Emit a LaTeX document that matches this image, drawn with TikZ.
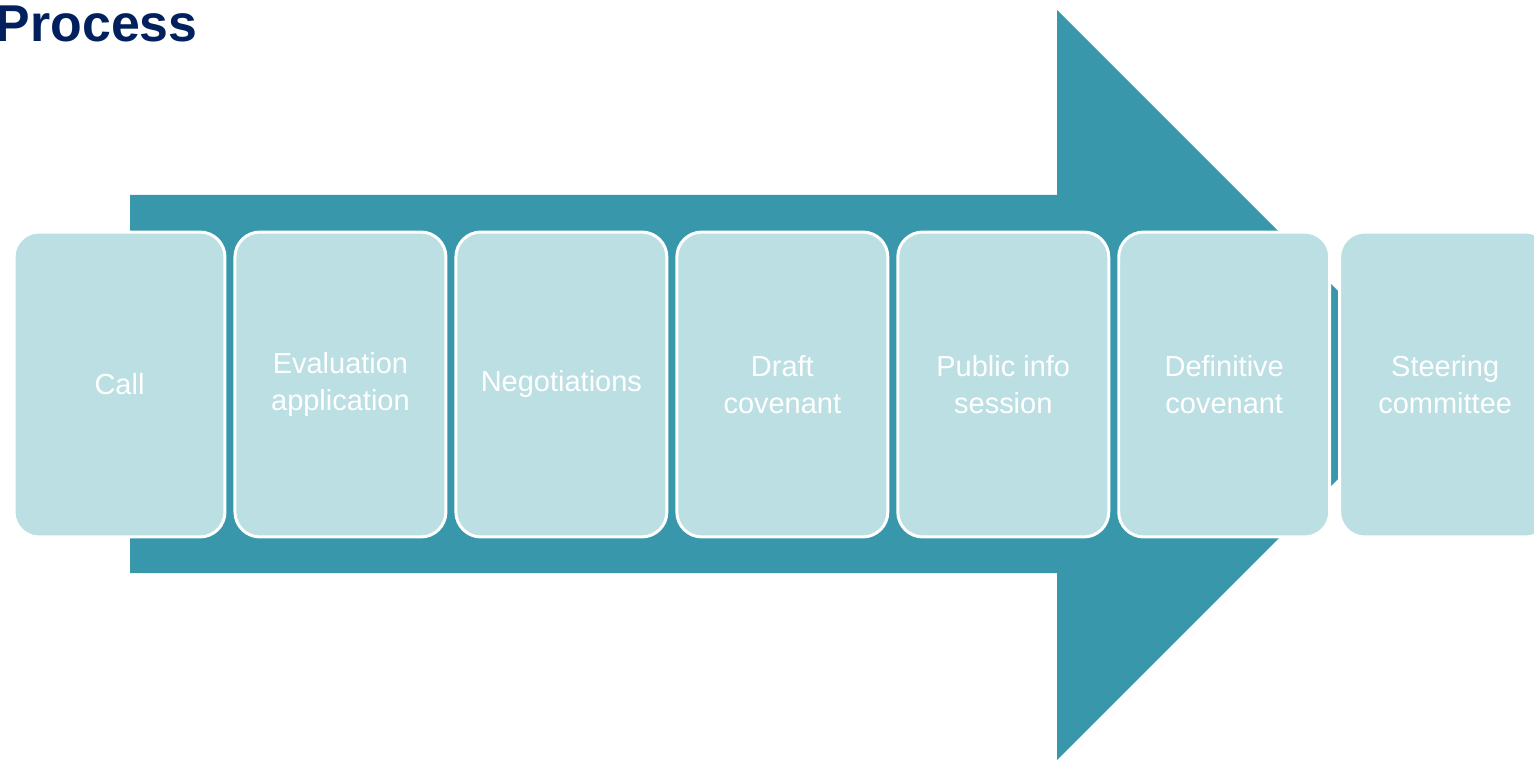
\documentclass[tikz,border=0pt]{standalone}
\usepackage{fontspec}
\setmainfont{Liberation Sans}
\usepackage{xcolor}
\usetikzlibrary{positioning}
\definecolor{arrowteal}{RGB}{57,151,172}
\definecolor{boxblue}{RGB}{187,223,227}
\definecolor{titlenavy}{RGB}{3,32,94}
\tikzset{
    stepbox/.style={
        draw=white, line width=1.7pt, fill=boxblue, rounded corners=0.5cm,
        minimum width=4.22cm, minimum height=6.1cm, inner sep=2pt,
        text=white, align=center, font=\fontsize{16.5}{21}\selectfont
    },
    bigarrow/.style={
        fill=arrowteal, draw=none
    },
    titletext/.style={
        anchor=base east, inner sep=0pt, text=titlenavy,
        font=\fontsize{29.5}{30}\selectfont\bfseries
    }
}

\begin{document}
\begin{tikzpicture}[x=0.02cm, y=-0.02cm]
    \useasboundingbox (0,0) rectangle (1534,763);

    % Mũi tên lớn phía sau
    \fill[bigarrow] (130,195) -- (1057,195) -- (1057,10) -- (1432,385)
        -- (1057,760) -- (1057,573) -- (130,573) -- cycle;

    % Tiêu đề
    \node[titletext] (title) at (198,42) {Process};

    % Các bước
    \node[stepbox] (s1) at (119.5,384.5) {Call};
    \node[stepbox, right=0.14cm of s1] (s2) {Evaluation\\application};
    \node[stepbox, right=0.14cm of s2] (s3) {Negotiations};
    \node[stepbox, right=0.14cm of s3] (s4) {Draft\\covenant};
    \node[stepbox, right=0.14cm of s4] (s5) {Public info\\session};
    \node[stepbox, right=0.14cm of s5] (s6) {Definitive\\covenant};
    \node[stepbox, right=0.14cm of s6] (s7) {Steering\\committee};

\end{tikzpicture}
\end{document}
